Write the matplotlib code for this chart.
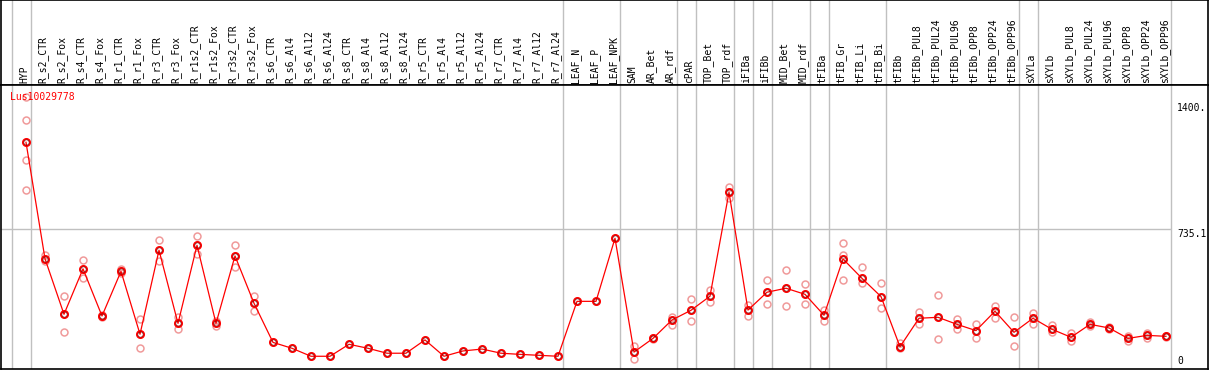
import matplotlib
matplotlib.use("Agg")
import matplotlib.pyplot as plt
from matplotlib.transforms import blended_transform_factory

# ---------------- data ----------------
labels = ["HYP", "R_s2_CTR", "R_s2_Fox", "R_s4_CTR", "R_s4_Fox", "R_r1_CTR", "R_r1_Fox",
          "R_r3_CTR", "R_r3_Fox", "R_r1s2_CTR", "R_r1s2_Fox", "R_r3s2_CTR", "R_r3s2_Fox",
          "R_s6_CTR", "R_s6_Al4", "R_s6_Al12", "R_s6_Al24", "R_s8_CTR", "R_s8_Al4",
          "R_s8_Al12", "R_s8_Al24", "R_r5_CTR", "R_r5_Al4", "R_r5_Al12", "R_r5_Al24",
          "R_r7_CTR", "R_r7_Al4", "R_r7_Al12", "R_r7_Al24", "LEAF_N", "LEAF_P", "LEAF_NPK",
          "SAM", "AR_Bet", "AR_rdf", "cPAR", "TOP_Bet", "TOP_rdf", "iFIBa", "iFIBb",
          "MID_Bet", "MID_rdf", "tFIBa", "tFIB_Gr", "tFIB_Li", "tFIB_Bi", "tFIBb",
          "tFIBb_PUL8", "tFIBb_PUL24", "tFIBb_PUL96", "tFIBb_OPP8", "tFIBb_OPP24",
          "tFIBb_OPP96", "sXYLa", "sXYLb", "sXYLb_PUL8", "sXYLb_PUL24", "sXYLb_PUL96",
          "sXYLb_OPP8", "sXYLb_OPP24", "sXYLb_OPP96"]

mean_values = [1193, 580, 288, 527, 279, 514, 183, 625, 240, 651, 240, 595, 346,
               140, 109, 67, 67, 130, 109, 83, 83, 153, 67, 95, 105, 83, 77, 72, 67,
               356, 356, 688, 89, 161, 258, 309, 383, 930, 310, 404, 425, 393, 283,
               579, 477, 381, 117, 267, 272, 235, 202, 304, 193, 267, 209, 167, 235,
               216, 161, 177, 172]

replicates = [[1430, 1309, 1098, 940], [598, 570], [383, 193], [574, 480], [283, 275],
              [525, 507], [262, 109], [679, 570], [275, 209], [700, 605], [252, 226],
              [652, 537], [384, 304], [], [], [], [], [], [], [], [], [], [], [], [],
              [], [], [], [], [], [], [], [121, 51], [165, 157], [275, 231], [367, 252],
              [416, 351], [959, 898], [337, 279], [467, 340], [519, 330], [446, 340],
              [310, 254], [661, 600, 467], [535, 451], [451, 319], [135, 109],
              [300, 235], [388, 156], [263, 212], [235, 161], [332, 268], [272, 119],
              [296, 238], [230, 193], [188, 149], [246, 226], [222, 210], [174, 149],
              [191, 161], [176, 168]]

# index of last column in each group (group separators)
group_ends = [-1, 0, 28, 31, 34, 35, 37, 38, 39, 41, 42, 45, 52, 53, 60]

gene_name = "Lus10029778"
ytick_values = [0, 735.1, 1400]
ytick_labels = ["0", "735.1", "1400."]

# ---------------- figure ----------------
W, H = 1209, 370
fig = plt.figure(figsize=(W / 100, H / 100), dpi=100)

FONT = "DejaVu Sans Mono"
FS = 7.0

# pixel geometry
left_px, right_px = 1, 1208
head_top, head_bot = 0, 85
plot_bot = 369
x0_px, dx_px = 26, 19
scale = (369 - 229.3) / 735.1  # px per unit

xmin = (left_px - x0_px) / dx_px
xmax = (right_px - x0_px) / dx_px
ymax = (plot_bot - head_bot) / scale

ax_head = fig.add_axes([left_px / W, (H - head_bot) / H, (right_px - left_px) / W,
                        (head_bot - head_top) / H])
ax = fig.add_axes([left_px / W, (H - plot_bot) / H, (right_px - left_px) / W,
                   (plot_bot - head_bot) / H])

for a in (ax_head, ax):
    a.set_xlim(xmin, xmax)
    a.set_xticks([])
    a.set_yticks([])
    for s in a.spines.values():
        s.set_color("black")
        s.set_linewidth(1.2)

ax_head.set_ylim(0, 1)
ax.set_ylim(0, ymax)

sep_offset = 0.25
for g in group_ends:
    ax_head.axvline(g + sep_offset, color="#c0c0c0", lw=1.0, zorder=0)
    ax.axvline(g + sep_offset, color="#c0c0c0", lw=1.0, zorder=0)

ax.hlines(735.1, xmin, group_ends[-1] + sep_offset, color="#c0c0c0", lw=1.0, zorder=0)

# header labels
trans_h = blended_transform_factory(ax_head.transData, ax_head.transAxes)
for i, lab in enumerate(labels):
    ax_head.text(i - 0.1, 0.025, lab, rotation=90, ha="center", va="bottom",
                 fontsize=FS, family=FONT, color="black", transform=trans_h)

# replicates
rx, ry = [], []
for i, reps in enumerate(replicates):
    for r in reps:
        rx.append(i)
        ry.append(r)
ax.plot(rx, ry, linestyle="none", marker="o", markersize=5.0, markerfacecolor="none",
        markeredgecolor="#f09a9a", markeredgewidth=1.1, zorder=2)

# mean line
xs = list(range(len(mean_values)))
ax.plot(xs, mean_values, color="red", lw=0.9, zorder=3)
ax.plot(xs, mean_values, linestyle="none", marker="o", markersize=5.2,
        markerfacecolor="none", markeredgecolor="red", markeredgewidth=1.3, zorder=4)
ax.plot(xs, mean_values, linestyle="none", marker="o", markersize=3.8,
        markerfacecolor="none", markeredgecolor="#600000", markeredgewidth=0.4, zorder=5)

# gene name
ax.text(9 / (right_px - left_px), 1 - 12 / (plot_bot - head_bot), gene_name,
        transform=ax.transAxes, color="red", fontsize=FS, family=FONT,
        ha="left", va="center")

# right value labels
trans_r = blended_transform_factory(fig.transFigure, ax.transData)
for v, t in zip(ytick_values, ytick_labels):
    if v == 0:
        ax.text(1177 / W, v + 3 / scale, t, transform=trans_r, fontsize=FS, family=FONT,
                ha="left", va="bottom", color="black")
    else:
        ax.text(1177 / W, v, t, transform=trans_r, fontsize=FS, family=FONT,
                ha="left", va="top", color="black")

fig.savefig("out.png", dpi=100)
